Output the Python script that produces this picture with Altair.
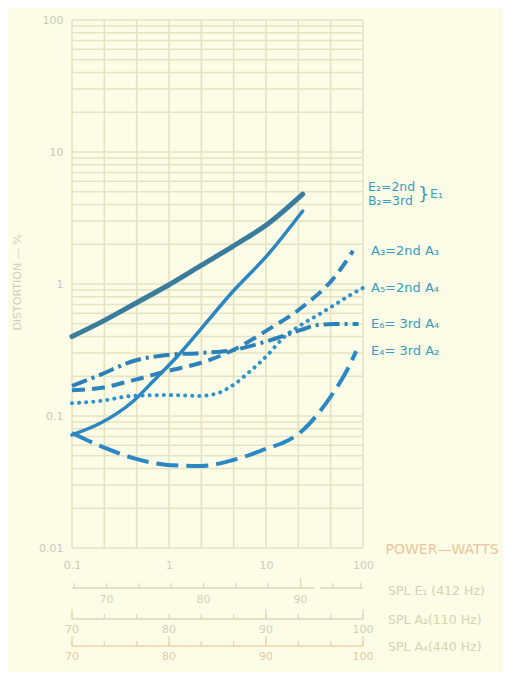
import altair as alt
import pandas as pd

# ---------------- data ----------------
# E2 = 2nd (E1 string) – thick solid
e2_power = [0.1, 0.195, 0.43, 0.96, 2.1, 4.6, 10.4, 23.9]
e2_dist = [0.40, 0.51, 0.70, 0.97, 1.37, 1.94, 2.85, 4.8]
# B2 = 3rd (E1 string) – thin solid
b2_power = [0.1, 0.195, 0.43, 0.69, 1.31, 2.1, 4.6, 10.4, 23.9]
b2_dist = [0.072, 0.088, 0.13, 0.184, 0.30, 0.45, 0.885, 1.66, 3.57]
# A3 = 2nd A3 – dashed
a3_power = [0.1, 0.195, 0.43, 0.96, 2.1, 4.6, 10.4, 23, 50, 79]
a3_dist = [0.157, 0.163, 0.187, 0.219, 0.252, 0.316, 0.449, 0.658, 1.11, 1.78]
# A5 = 2nd A4 – dotted
a5_power = [0.1, 0.195, 0.43, 0.96, 2.1, 3.2, 4.6, 6.9, 10.4, 15, 23, 34, 50, 75, 99]
a5_dist = [0.125, 0.130, 0.142, 0.144, 0.142, 0.149, 0.172, 0.219, 0.29, 0.39, 0.49, 0.58, 0.69, 0.83, 0.93]
# E6 = 3rd A4 – dash-dot
e6_power = [0.1, 0.195, 0.43, 0.96, 2.1, 4.6, 10.4, 23, 34, 50, 90]
e6_dist = [0.169, 0.205, 0.261, 0.29, 0.30, 0.316, 0.37, 0.449, 0.49, 0.497, 0.497]
# E4 = 3rd A2 – long dash
e4_power = [0.1, 0.195, 0.43, 0.96, 2.1, 4.6, 10.4, 16, 23, 34, 50, 68, 85]
e4_dist = [0.0743, 0.0593, 0.048, 0.0426, 0.0418, 0.0464, 0.057, 0.064, 0.076, 0.103, 0.152, 0.22, 0.31]

series_labels = ["A\u2083=2nd  A\u2083", "A\u2085=2nd  A\u2084", "E\u2086= 3rd  A\u2084", "E\u2084= 3rd  A\u2082"]
brace_labels = ["E\u2082=2nd", "B\u2082=3rd"]

x_ticks = [0.1, 1, 10, 100]
y_ticks = [0.01, 0.1, 1, 10, 100]

# graph-paper rulings
paper_x = [0.1, 0.2154, 0.4642, 1, 2.154, 4.642, 10, 21.54, 46.42, 100]
paper_y = [m * 10.0 ** e for e in (-2, -1, 0, 1) for m in range(1, 10)] + [100]

# SPL scales (dB) under the power axis
spl_e1_labels = [70, 80, 90]
spl_e1_ticks = [66.67, 70, 73.33, 76.67, 80, 83.33, 86.67, 90, 93.33, 96.2]
spl_a_labels = [70, 80, 90, 100]
spl_a_ticks = [70, 73.33, 76.67, 80, 83.33, 86.67, 90, 93.33, 96.67, 100]
E1_REF = 76.44   # dB at 1 W for E1 (412 Hz)
A_REF = 80.0     # dB at 1 W for A2 / A4

# ---------------- styling ----------------
W, H = 291, 528
BG = "#fcfce7"
GRID = "#e5e3c1"
FONT = "DejaVu Sans"
LBL = "#3a9bbf"

X = alt.Scale(type="log", domain=[0.1, 100], nice=False, zero=False)
Y = alt.Scale(type="log", domain=[0.01, 100], nice=False, zero=False)

X_AXIS = alt.Axis(
    values=x_ticks, format="~g", domain=False, ticks=False, tickSize=0, grid=False,
    labelColor="#cdcdbd", labelFont=FONT, labelFontSize=11, labelPadding=11,
    labelFlush=False,
    title="POWER\u2014WATTS", titleColor="#e8c79d", titleFont=FONT,
    titleFontSize=14, titleFontWeight="normal", titleX=313, titleY=1,
    titleAlign="left", titleBaseline="middle", titleAngle=0)
Y_AXIS = alt.Axis(
    values=y_ticks, format="~g", domain=False, ticks=False, tickSize=0, grid=False,
    labelColor="#c9c9bb", labelFont=FONT, labelFontSize=11, labelPadding=9,
    labelFlush=False,
    title="DISTORTION \u2014 %", titleColor="#d0d0c2", titleFont=FONT,
    titleFontSize=11, titleFontWeight="normal", titleX=-55, titleY=262,
    titleAngle=270, titleAlign="center", titleBaseline="middle")


def xp(field="p"):
    return alt.X(f"{field}:Q", scale=X, axis=X_AXIS)


def yd(field="d"):
    return alt.Y(f"{field}:Q", scale=Y, axis=Y_AXIS)


layers = []

# vertical and horizontal paper lines
layers.append(
    alt.Chart(pd.DataFrame({"p": paper_x})).mark_rule(color=GRID, strokeWidth=1.6).encode(
        x=xp(), y=alt.value(0), y2=alt.value(H))
)
layers.append(
    alt.Chart(pd.DataFrame({"d": paper_y})).mark_rule(color=GRID, strokeWidth=1.6).encode(
        y=yd(), x=alt.value(0), x2=alt.value(W))
)


def curve(power, dist, color, width, dash=None, cap="butt"):
    df = pd.DataFrame({"p": power, "d": dist})
    kw = dict(color=color, strokeWidth=width, interpolate="monotone", strokeCap=cap)
    if dash:
        kw["strokeDash"] = dash
    return alt.Chart(df).mark_line(**kw).encode(x=xp(), y=yd())


layers.append(curve(e2_power, e2_dist, "#3a7c9c", 5, cap="round"))
layers.append(curve(b2_power, b2_dist, "#2b86c2", 3.5, cap="round"))
layers.append(curve(a3_power, a3_dist, "#2f83bb", 4, [13, 7]))
layers.append(curve(a5_power, a5_dist, "#2c93cf", 4, [0.1, 7], cap="round"))
layers.append(curve(e6_power, e6_dist, "#2b80b8", 4, [16, 5, 3, 5]))
layers.append(curve(e4_power, e4_dist, "#2a89c4", 4, [22, 8]))

# curve labels at the right, anchored on each curve's end value
lab_df = pd.DataFrame({
    "p": [100] * 4,
    "d": [a3_dist[-1], a5_dist[-1], e6_dist[-1], e4_dist[-1]],
    "t": series_labels,
})
layers.append(alt.Chart(lab_df).mark_text(
    align="left", baseline="middle", dx=8, font=FONT, fontSize=13, color=LBL
).encode(x=xp(), y=yd(), text="t:N"))

br_df = pd.DataFrame({"p": [100, 100], "d": [e2_dist[-1], e2_dist[-1]], "t": brace_labels})
layers.append(alt.Chart(br_df.iloc[[0]]).mark_text(
    align="left", baseline="middle", dx=5, dy=-7, font=FONT, fontSize=12.5, color=LBL
).encode(x=xp(), y=yd(), text="t:N"))
layers.append(alt.Chart(br_df.iloc[[1]]).mark_text(
    align="left", baseline="middle", dx=5, dy=7, font=FONT, fontSize=12.5, color=LBL
).encode(x=xp(), y=yd(), text="t:N"))
layers.append(alt.Chart(pd.DataFrame({"p": [100], "d": [e2_dist[-1]], "t": ["}"]})).mark_text(
    align="left", baseline="middle", dx=55, dy=1, font=FONT, fontSize=18, color=LBL
).encode(x=xp(), y=yd(), text="t:N"))
layers.append(alt.Chart(pd.DataFrame({"p": [100], "d": [e2_dist[-1]], "t": ["E\u2081"]})).mark_text(
    align="left", baseline="middle", dx=67, dy=0, font=FONT, fontSize=12.5, color=LBL
).encode(x=xp(), y=yd(), text="t:N"))


# ---------------- SPL scales below the power axis ----------------
def spl_axis(ticks, labels, ref, line_y, label_y, color, label_color, major, segments):
    out = []
    seg_df = pd.DataFrame({"p": [s[0] for s in segments], "p2": [s[1] for s in segments]})
    out.append(alt.Chart(seg_df).mark_rule(color=color, strokeWidth=1.3).encode(
        x=xp(), x2="p2:Q", y=alt.value(line_y)))
    t_df = pd.DataFrame({"db": ticks})
    t_df["p"] = 10 ** ((t_df["db"] - ref) / 10)
    t_df = t_df[(t_df["p"] >= 0.1) & (t_df["p"] <= 100.01)]
    out.append(alt.Chart(t_df).mark_rule(color=color, strokeWidth=1.2).encode(
        x=xp(), y=alt.value(line_y - 5), y2=alt.value(line_y)))
    m_df = pd.DataFrame({"db": major})
    m_df["p"] = 10 ** ((m_df["db"] - ref) / 10)
    out.append(alt.Chart(m_df).mark_rule(color=color, strokeWidth=1.2).encode(
        x=xp(), y=alt.value(line_y - 10), y2=alt.value(line_y)))
    l_df = pd.DataFrame({"db": labels})
    l_df["p"] = 10 ** ((l_df["db"] - ref) / 10)
    out.append(alt.Chart(l_df).mark_text(
        align="center", baseline="middle", font=FONT, fontSize=11, color=label_color
    ).encode(x=xp(), y=alt.value(label_y), text="db:Q"))
    return out


layers += spl_axis(spl_e1_ticks, spl_e1_labels, E1_REF, 568, 580, "#d9dab8", "#d2d3b3",
                   [90], [(0.1, 32), (36, 100)])
layers += spl_axis(spl_a_ticks, spl_a_labels, A_REF, 599, 610, "#dcd8b6", "#d4d1b8",
                   [70, 90, 100], [(0.1, 100)])
layers += spl_axis(spl_a_ticks, spl_a_labels, A_REF, 626, 637, "#ebd2a9", "#e9cba2",
                   [70, 80, 90, 100], [(0.1, 100)])

spl_names = pd.DataFrame({
    "t": ["SPL  E\u2081 (412 Hz)", "SPL  A\u2082(110 Hz)", "SPL  A\u2084(440 Hz)"],
    "yy": [571, 600, 627],
})
for _, r in spl_names.iterrows():
    layers.append(alt.Chart(pd.DataFrame({"t": [r["t"]]})).mark_text(
        align="left", baseline="middle", font=FONT, fontSize=12.5, color="#d7d2b1"
    ).encode(x=alt.value(316), y=alt.value(int(r["yy"])), text="t:N"))

chart = alt.layer(*layers).properties(
    width=W, height=H,
    autosize=alt.AutoSizeParams(type="none"),
    padding={"left": 64, "top": 12, "right": 140, "bottom": 124},
    background=BG,
).configure_view(stroke=None)

chart.save("out.html", embed_options={"renderer": "svg", "actions": False})
